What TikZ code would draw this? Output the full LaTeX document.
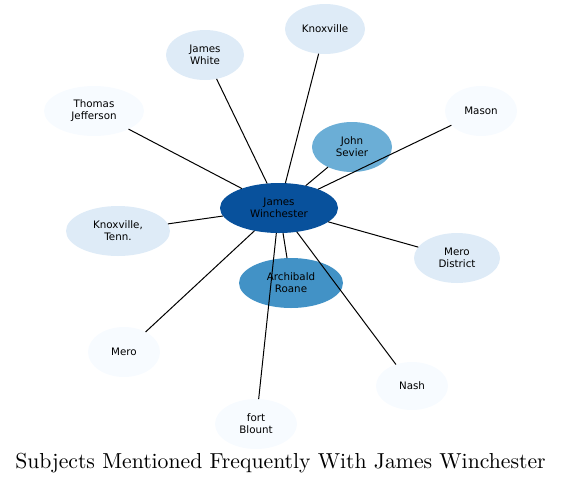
\documentclass[tikz,border=0pt]{standalone}
\usepackage{fontspec}
\setsansfont{DejaVu Sans}
\newfontfamily\titlefont{lmroman10-regular}[Extension=.otf]
\usetikzlibrary{shapes.geometric}
\definecolor{c0}{HTML}{08519C}
\definecolor{c1}{HTML}{4292C6}
\definecolor{c2}{HTML}{6BAED6}
\definecolor{c3}{HTML}{DEEBF7}
\definecolor{c4}{HTML}{F7FBFF}
\begin{document}
\begin{tikzpicture}[x=1pt,y=-1pt,
  ent/.style={ellipse,inner sep=0pt,outer sep=0pt,align=center,
    font=\sffamily\fontsize{10.3}{12}\selectfont,text=black},
  link/.style={draw=black,line width=1pt}]
\useasboundingbox (0,0) rectangle (561,485);
\node[ent,fill=c0,minimum width=118pt,minimum height=50pt] (jw) at (279,208) {James\\Winchester};
\node[ent,fill=c2,minimum width=80pt,minimum height=50pt] (js) at (352,147) {John\\Sevier};
\node[ent,fill=c1,minimum width=104pt,minimum height=50pt] (ar) at (291,283) {Archibald\\Roane};
\node[ent,fill=c3,minimum width=80pt,minimum height=50pt] (kx) at (325,29) {Knoxville};
\node[ent,fill=c3,minimum width=78pt,minimum height=50pt] (jwh) at (205,55) {James\\White};
\node[ent,fill=c4,minimum width=100pt,minimum height=50pt] (tj) at (94,111) {Thomas\\Jefferson};
\node[ent,fill=c4,minimum width=72pt,minimum height=50pt] (ma) at (481,111) {Mason};
\node[ent,fill=c3,minimum width=104pt,minimum height=50pt] (kt) at (118,231) {Knoxville,\\Tenn.};
\node[ent,fill=c3,minimum width=86pt,minimum height=50pt] (md) at (457,258) {Mero\\District};
\node[ent,fill=c4,minimum width=72pt,minimum height=50pt] (me) at (124,352) {Mero};
\node[ent,fill=c4,minimum width=72pt,minimum height=48pt] (na) at (412,386) {Nash};
\node[ent,fill=c4,minimum width=82pt,minimum height=50pt] (fb) at (256,424) {fort\\Blount};
\foreach \t in {js,ar,kx,jwh,tj,ma,kt,md,me,na,fb}
  \draw[link] (jw) -- (\t);
\node[font=\titlefont\fontsize{21.7}{26}\selectfont,inner sep=0pt] (title) at (280.5,463) {Subjects Mentioned Frequently With James Winchester};
\end{tikzpicture}
\end{document}
